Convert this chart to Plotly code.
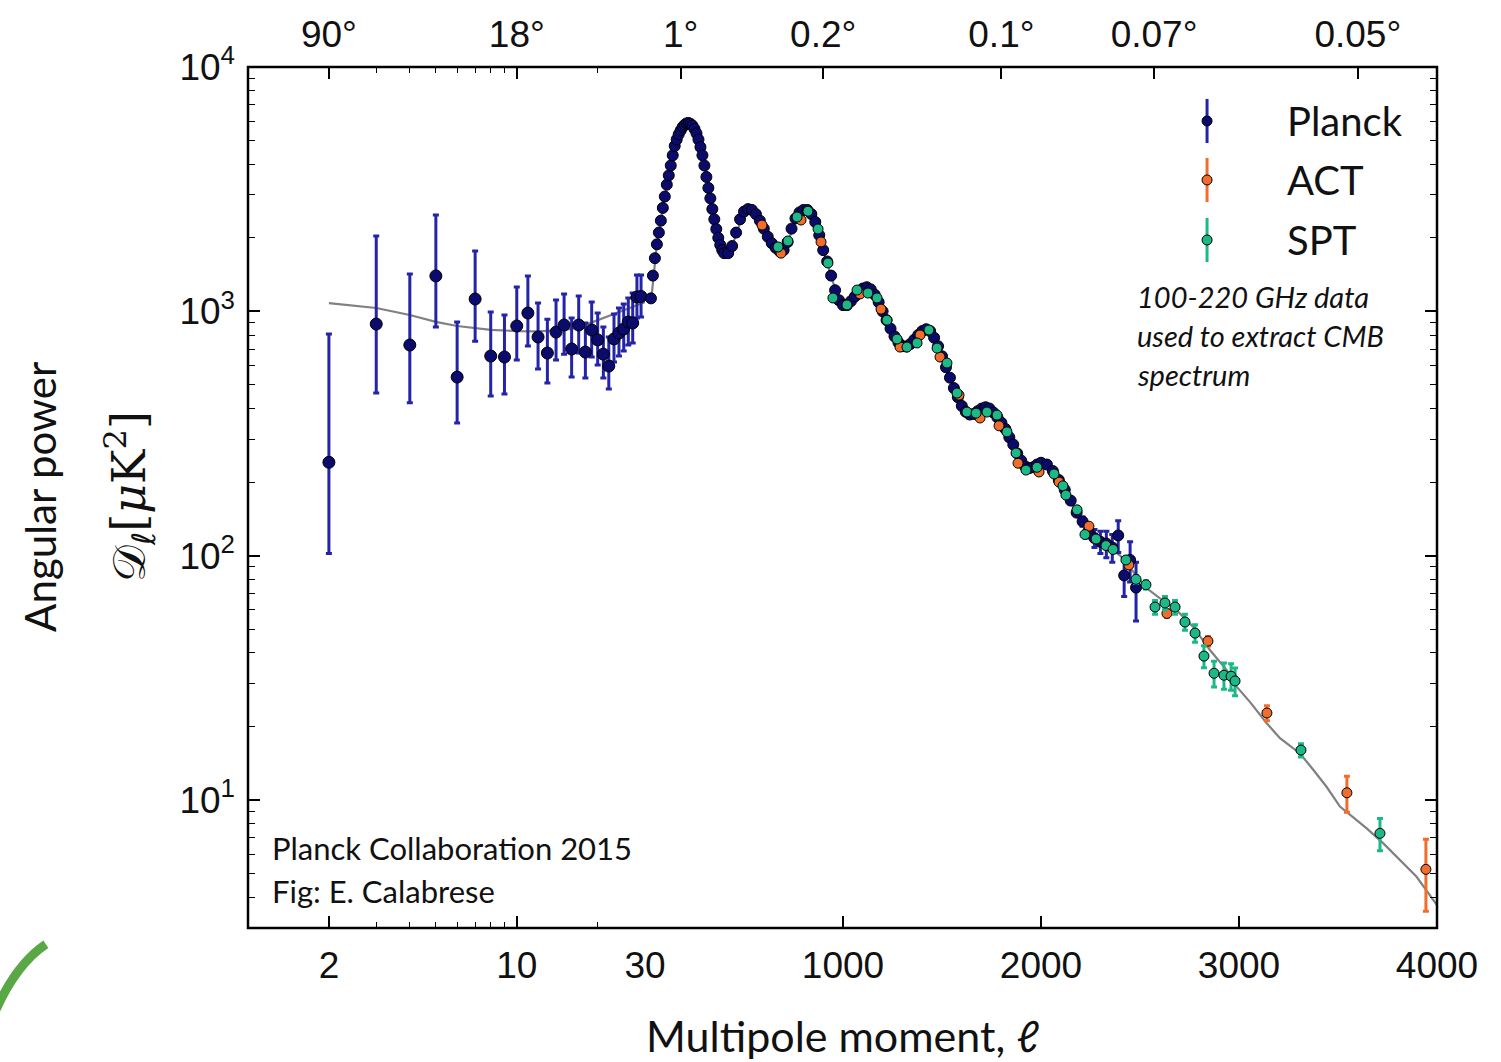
import plotly.graph_objects as go

# ---------------- data ----------------
planck_low_ell = [2, 3, 4, 5, 6, 7, 8, 9, 10, 11, 12, 13, 14, 15, 16, 17, 18, 19, 20, 21,
                  22, 23, 24, 25, 26, 27, 28, 29]
planck_low_D = [241, 887, 728, 1396, 538, 1123, 656, 650, 871, 984, 785, 675, 822, 879, 701,
                879, 681, 838, 764, 668, 597, 771, 815, 847, 904, 896, 1145, 1150]
planck_low_hi = [807, 2032, 1422, 2478, 904, 1766, 993, 966, 1258, 1396, 1081, 929, 1112, 1178,
                 939, 1155, 896, 1091, 984, 862, 785, 975, 1032, 1072, 1134, 1188, 1409, 1409]
planck_low_lo = [102, 463, 422, 862, 349, 755, 450, 459, 632, 721, 581, 509, 632, 668, 538, 675,
                 533, 650, 603, 533, 481, 620, 656, 688, 728, 742, 939, 948]

planck_mid_ell = [30, 40, 50, 60, 70, 80, 90, 100, 110, 120, 130, 140, 150, 160, 170, 180, 190,
                  200, 210, 220, 230, 240, 250, 260, 270, 280, 290, 300, 310, 320, 330, 340, 350,
                  360, 370, 380, 390, 400,
                  420, 440, 460, 480, 500, 520, 540, 560, 580, 600, 620, 640, 660, 680, 700, 720,
                  740, 760, 780, 800, 820, 840, 860, 880, 900, 920, 940, 960, 980, 1000, 1020,
                  1040, 1060, 1080, 1100, 1120, 1140, 1160, 1180, 1200, 1220, 1240, 1260, 1280,
                  1300, 1320, 1340, 1360, 1380, 1400, 1420, 1440, 1460, 1480, 1500, 1520, 1540,
                  1560, 1580, 1600, 1620, 1640, 1660, 1680, 1700, 1720, 1740, 1760, 1780, 1800,
                  1820, 1840, 1860, 1880, 1900, 1920, 1940, 1960, 1980, 2000,
                  2030, 2060, 2090, 2120, 2150, 2180]
planck_mid_D = [1130, 1400, 1650, 1880, 2100, 2350, 2650, 2950, 3300, 3600, 3950, 4350, 4750,
                5050, 5300, 5500, 5680, 5800, 5880, 5900, 5850, 5750, 5580, 5350, 5050, 4700,
                4350, 3950, 3550, 3200, 2900, 2620, 2380, 2170, 2000, 1870, 1780, 1730,
                1730, 1850, 2100, 2380, 2560, 2620, 2600, 2500, 2350, 2180, 2020, 1900, 1820,
                1760, 1780, 1920, 2180, 2400, 2540, 2600, 2600, 2500, 2320, 2050, 1780, 1600,
                1400, 1220, 1110, 1060, 1060, 1100, 1150, 1200, 1240, 1255, 1230, 1170, 1090,
                1000, 920, 850, 790, 745, 720, 718, 735, 765, 800, 830, 845, 830, 780, 720, 655,
                590, 535, 485, 445, 410, 388, 378, 380, 390, 400, 405, 400, 385, 368, 350, 330,
                305, 285, 262, 245, 232, 228, 230, 236, 240,
                236, 222, 204, 186, 168, 150]

planck_tail_ell = [2210, 2240, 2270, 2300, 2330, 2360, 2390, 2420, 2450, 2480]
planck_tail_D = [138, 126, 118, 114, 112, 108, 121, 83, 96, 74]
planck_tail_err = [6, 8, 10, 12, 14, 14, 18, 15, 18, 20]

act_ell = [591, 687, 788, 889, 1086, 1192, 1288, 1389, 1490, 1586, 1692, 1788, 1884, 1990, 2091,
           2242, 2444, 2636, 2843, 3141, 3545, 3944]
act_D = [2254, 1730, 2364, 1923, 1178, 1021, 714, 800, 650, 454, 366, 340, 239, 220, 200, 132,
         91.6, 58, 44.7, 22.7, 10.7, 5.2]
act_err = [30, 25, 30, 25, 15, 12, 8, 9, 8, 6, 5, 5, 4, 4, 4, 3, 3, 2, 2, 1.6, 1.8, 1.7]

spt_ell = [672, 722, 768, 823, 874, 924, 949, 1020, 1071, 1126, 1172, 1222, 1273, 1323, 1374,
           1434, 1475, 1525, 1576, 1626, 1672, 1727, 1778, 1828, 1874, 1924, 1980, 2066, 2111,
           2126, 2182, 2222, 2278, 2328, 2364, 2429, 2480, 2530, 2576, 2626, 2677, 2727, 2778,
           2823, 2874, 2924, 2960, 2980, 3313, 3712]
spt_D = [1834, 1940, 2432, 2570, 2173, 1577, 1134, 1062, 1222, 1188, 1134, 920, 770, 714, 742,
         838, 707, 614, 463, 387, 383, 387, 376, 321, 263, 224, 230, 216, 193, 177, 154, 122, 117,
         110, 106, 96, 80, 76, 61.6, 64, 61.6, 53.5, 48.2, 38.8, 33, 32.4, 32.1, 30.7, 16.0, 7.3]
spt_err = [15, 15, 20, 20, 18, 14, 10, 9, 10, 10, 9, 8, 7, 6, 6, 7, 6, 5, 4, 4, 4, 4, 4, 3, 3, 3,
           3, 3, 3, 3, 3, 3, 3, 3, 3, 3, 3, 3, 4, 4, 4, 4, 4, 4, 4, 4, 4, 4, 1, 1.1]

theory_low_ell = [2, 3, 4, 5, 6, 7, 8, 10, 12, 14, 16, 18, 20, 22, 25, 28, 30]
theory_low_D = [1081, 1032, 966, 905, 871, 855, 840, 830, 828, 835, 847, 880, 920, 960, 1010,
                1060, 1090]
theory_hi_ell = [30, 60, 100, 150, 200, 220, 250, 300, 350, 400, 420, 450, 500, 540, 600, 650,
                 680, 720, 780, 815, 850, 900, 950, 1000, 1050, 1125, 1200, 1280, 1320, 1380,
                 1425, 1500, 1580, 1640, 1720, 1800, 1880, 1940, 2000, 2030, 2100, 2200, 2300,
                 2400, 2534, 2601, 2685, 2769, 2853, 2938, 2988, 3055, 3140, 3207, 3308, 3375,
                 3443, 3510, 3560, 3645, 3729, 3813, 3897, 4000]
theory_hi_D = [1090, 1880, 2950, 4750, 5800, 5900, 5580, 3950, 2380, 1730, 1720, 1950, 2560,
               2600, 2180, 1860, 1760, 1920, 2540, 2610, 2420, 1780, 1310, 1060, 1120, 1255, 1000,
               745, 718, 800, 845, 655, 445, 378, 405, 350, 262, 228, 240, 236, 198, 138, 114,
               100, 73.5, 66.8, 59.8, 51.1, 41.1, 34.0, 29.1, 25.2, 20.6, 17.9, 15.5, 13.3, 11.3,
               9.4, 8.7, 7.65, 6.64, 5.68, 4.85, 3.71]

bottom_log_ticks = [2, 10, 30]
bottom_lin_ticks = [1000, 2000, 3000, 4000]
top_log_ticks = [2, 10]
top_log_text = ["90°", "18°"]
top_lin_ticks = [180, 900, 1800, 2571, 3600]
top_lin_text = ["1°", "0.2°", "0.1°", "0.07°", "0.05°"]
y_ticks = [10, 100, 1000, 10000]
y_text = ["10<sup>1</sup>", "10<sup>2</sup>", "10<sup>3</sup>", "10<sup>4</sup>"]

series_names = ["Planck", "ACT", "SPT"]

# ---------------- styles ----------------
NAVY = "#0b0b6e"
NAVY_BAR = "#2424a8"
ORANGE = "#f26d2c"
GREEN = "#1db888"
GRAY = "#808080"
TICKFONT = dict(family="Liberation Sans, Arial, sans-serif", size=37, color="#111")
TXT = "Lato, 'Open Sans', sans-serif"

LOG_DOMAIN = [0, 0.3339]      # log part of the hybrid x axis
LIN_DOMAIN = [0.3389, 1]      # linear part of the hybrid x axis

fig = go.Figure()

# theory curves
fig.add_trace(go.Scatter(x=theory_low_ell, y=theory_low_D, mode="lines",
                         line=dict(color=GRAY, width=2.2), xaxis="x", yaxis="y",
                         showlegend=False, hoverinfo="skip"))
fig.add_trace(go.Scatter(x=theory_hi_ell, y=theory_hi_D, mode="lines",
                         line=dict(color=GRAY, width=2.2), xaxis="x2", yaxis="y",
                         showlegend=False, hoverinfo="skip"))

# Planck low-ell
fig.add_trace(go.Scatter(
    x=planck_low_ell, y=planck_low_D, mode="markers", xaxis="x", yaxis="y",
    error_y=dict(type="data", symmetric=False,
                 array=[h - d for h, d in zip(planck_low_hi, planck_low_D)],
                 arrayminus=[d - l for d, l in zip(planck_low_D, planck_low_lo)],
                 color=NAVY_BAR, thickness=3, width=3),
    marker=dict(size=12, color=NAVY, line=dict(color="#000", width=1)),
    showlegend=False, cliponaxis=False))

# Planck high-ell
fig.add_trace(go.Scatter(
    x=planck_mid_ell, y=planck_mid_D, mode="markers", xaxis="x2", yaxis="y",
    marker=dict(size=11, color=NAVY, line=dict(color="#000", width=1)),
    showlegend=False, cliponaxis=False))
fig.add_trace(go.Scatter(
    x=planck_tail_ell, y=planck_tail_D, mode="markers", xaxis="x2", yaxis="y",
    error_y=dict(type="data", array=planck_tail_err, color=NAVY_BAR, thickness=3, width=3),
    marker=dict(size=11, color=NAVY, line=dict(color="#000", width=1)),
    showlegend=False))

# ACT, SPT
fig.add_trace(go.Scatter(
    x=act_ell, y=act_D, mode="markers", xaxis="x2", yaxis="y",
    error_y=dict(type="data", array=act_err, color=ORANGE, thickness=3, width=3),
    marker=dict(size=10, color=ORANGE, line=dict(color="#000", width=1)),
    showlegend=False))
fig.add_trace(go.Scatter(
    x=spt_ell, y=spt_D, mode="markers", xaxis="x2", yaxis="y",
    error_y=dict(type="data", array=spt_err, color=GREEN, thickness=3, width=3),
    marker=dict(size=10, color=GREEN, line=dict(color="#000", width=1)),
    showlegend=False))

# empty traces to activate helper axes
fig.add_trace(go.Scatter(x=[], y=[], xaxis="x3", yaxis="y", showlegend=False))
fig.add_trace(go.Scatter(x=[], y=[], xaxis="x4", yaxis="y", showlegend=False))
fig.add_trace(go.Scatter(x=[], y=[], xaxis="x2", yaxis="y2", showlegend=False))

log_minor = [3, 4, 5, 6, 7, 8, 9, 20]
y_minor = [m * 10 ** k for k in range(0, 4) for m in range(2, 10) if m * 10 ** k >= 3]

common = dict(ticks="inside", ticklen=12, tickwidth=1.5, tickcolor="#000", showgrid=False,
              zeroline=False, showline=False, tickfont=TICKFONT, automargin=False,
              ticklabelstandoff=12)

log_range = [0, 1.47713]
lin_range = [30, 4000]

fig.update_layout(
    width=1501, height=1062,
    margin=dict(l=248, r=64, t=67, b=134),
    paper_bgcolor="white", plot_bgcolor="white",
    showlegend=False,
    xaxis=dict(type="log", range=log_range, domain=LOG_DOMAIN, anchor="y",
               tickmode="array", tickvals=bottom_log_ticks,
               ticktext=[str(v) for v in bottom_log_ticks],
               minor=dict(tickmode="array", tickvals=log_minor, ticks="inside", ticklen=6,
                          tickwidth=1.2, tickcolor="#000", showgrid=False),
               **common),
    xaxis2=dict(type="linear", range=lin_range, domain=LIN_DOMAIN, anchor="y",
                tickmode="array", tickvals=bottom_lin_ticks,
                ticktext=[str(v) for v in bottom_lin_ticks], **common),
    xaxis3=dict(type="log", range=log_range, overlaying="x", side="top", anchor="y",
                tickmode="array", tickvals=top_log_ticks, ticktext=top_log_text,
                minor=dict(tickmode="array", tickvals=log_minor, ticks="inside", ticklen=6,
                           tickwidth=1.2, tickcolor="#000", showgrid=False),
                **common),
    xaxis4=dict(type="linear", range=lin_range, overlaying="x2", side="top", anchor="y",
                tickmode="array", tickvals=top_lin_ticks, ticktext=top_lin_text, **common),
    yaxis=dict(type="log", range=[0.476, 4.0], anchor="x", side="left",
               tickmode="array", tickvals=y_ticks, ticktext=y_text,
               minor=dict(tickmode="array", tickvals=y_minor, ticks="inside", ticklen=7,
                          tickwidth=1.2, tickcolor="#000", showgrid=False),
               **common),
    yaxis2=dict(type="log", range=[0.476, 4.0], anchor="x2", overlaying="y", side="right",
                tickmode="array", tickvals=y_ticks, showticklabels=False,
                minor=dict(tickmode="array", tickvals=y_minor, ticks="inside", ticklen=7,
                           tickwidth=1.2, tickcolor="#000", showgrid=False),
                **common),
)

shapes = [
    dict(type="rect", xref="paper", yref="paper", x0=0, x1=1, y0=0, y1=1,
         line=dict(color="#000", width=2.5), layer="above"),
    # decorative green stroke in the slide corner
    dict(type="path", xref="paper", yref="paper",
         path="M -0.2130,-0.0980 Q -0.1950,-0.0420 -0.1700,-0.0190",
         line=dict(color="#5aa845", width=9)),
]

# legend (manual, matplotlib-like errorbar symbols)
leg_x = 0.8066
leg_y = [0.9373, 0.8688, 0.7991]
leg_bar = [NAVY_BAR, ORANGE, GREEN]
leg_fill = [NAVY, ORANGE, GREEN]
for yy, bc, fc in zip(leg_y, leg_bar, leg_fill):
    shapes.append(dict(type="line", xref="paper", yref="paper", x0=leg_x, x1=leg_x,
                       y0=yy - 0.0256, y1=yy + 0.0256, line=dict(color=bc, width=3)))
    shapes.append(dict(type="circle", xref="paper", yref="paper", xsizemode="pixel",
                       ysizemode="pixel", xanchor=leg_x, yanchor=yy, x0=-5, x1=5, y0=-5, y1=5,
                       fillcolor=fc, line=dict(color="#000", width=1)))

annotations = []
for name, yy in zip(series_names, leg_y):
    annotations.append(dict(text=name, x=0.872, y=yy, xref="paper", yref="paper",
                            xanchor="left", yanchor="middle", showarrow=False,
                            font=dict(family=TXT, size=40, color="#111")))

for txt, yy in zip(["100-220 GHz data", "used to extract CMB", "spectrum"],
                   [0.734, 0.6887, 0.6434]):
    annotations.append(dict(text="<i>" + txt + "</i>", x=0.746, y=yy, xref="paper",
                            yref="paper", xanchor="left", yanchor="middle", showarrow=False,
                            font=dict(family=TXT, size=29, color="#111")))

annotations += [
    dict(text="Planck Collaboration 2015", x=0.0185, y=0.0929, xref="paper", yref="paper",
         xanchor="left", yanchor="middle", showarrow=False,
         font=dict(family=TXT, size=31, color="#111")),
    dict(text="Fig: E. Calabrese", x=0.0185, y=0.043, xref="paper", yref="paper",
         xanchor="left", yanchor="middle", showarrow=False,
         font=dict(family=TXT, size=31, color="#111")),
    dict(text="Multipole moment, ℓ", x=0.4996, y=-0.1243, xref="paper", yref="paper",
         xanchor="center", yanchor="middle", showarrow=False,
         font=dict(family=TXT, size=43, color="#111")),
    dict(text="Angular power", x=-0.175, y=0.5006, xref="paper", yref="paper",
         xanchor="center", yanchor="middle", showarrow=False, textangle=-90,
         font=dict(family=TXT, size=42, color="#111")),
    dict(text="𝒟<sub>ℓ</sub>[<i>μ</i>K<sup>2</sup>]", x=-0.0992, y=0.5006, xref="paper",
         yref="paper", xanchor="center", yanchor="middle", showarrow=False, textangle=-90,
         font=dict(family="'DejaVu Serif', 'DejaVu Sans', serif", size=46, color="#111")),
]

fig.update_layout(shapes=shapes, annotations=annotations)
fig.write_html("out.html", config={"displayModeBar": False},
               post_script="document.body.style.margin='0px';document.body.style.overflow='hidden';")
